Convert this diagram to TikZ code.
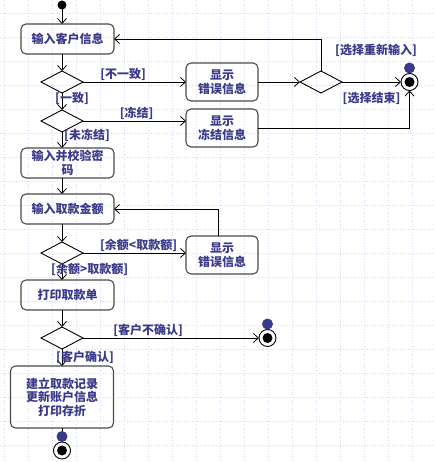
\documentclass[tikz,border=0pt]{standalone}
\usepackage{fontspec}
\newfontfamily\cjk{Noto Sans CJK SC}
\usetikzlibrary{shapes.geometric, arrows.meta, positioning}
\definecolor{tnavy}{HTML}{3A3A8A}
\definecolor{bgray}{HTML}{4A4A4A}
\definecolor{gridc}{HTML}{D8DBF4}
\tikzstyle{initial} = [circle, fill = black, minimum size = 9pt, inner sep = 0pt, outer sep = 0pt]
\tikzstyle{final} = [circle, draw, line width = 0.9pt, minimum size = 17pt, inner sep = 0pt, outer sep = 0pt, path picture = {\fill (path picture bounding box.center) circle (5pt);}]
\tikzstyle{marker} = [circle, fill = tnavy, minimum size = 11pt, inner sep = 0pt, outer sep = 0pt]
\tikzstyle{action} = [rectangle, rounded corners = 5pt, draw = bgray, line width = 1.1pt, minimum width = 93pt, minimum height = 30pt, inner sep = 1pt, outer sep = 0pt, align = center, text = tnavy, font = \cjk\bfseries\fontsize{12}{13.5}\selectfont]
\tikzstyle{notice} = [action, minimum width = 72pt, minimum height = 38pt]
\tikzstyle{branch} = [diamond, draw, line width = 0.9pt, minimum width = 42pt, minimum height = 22pt, inner sep = 0pt, outer sep = 0pt]
\tikzstyle{guard} = [inner sep = 1pt, text = tnavy, font = \cjk\bfseries\fontsize{12}{13.5}\selectfont]
\tikzstyle{flow} = [line width = 0.8pt, ->, >={Straight Barb[length = 5pt, width = 9pt]}]
\tikzstyle{gridline} = [gridc, line width = 0.7pt, dash pattern = on 0.8pt off 1.9pt]

\begin{document}
\begin{tikzpicture}[node distance = 17pt]
  \useasboundingbox (0,0) rectangle (435pt,-462pt);
  % background grid
  \foreach \gx in {0,...,17} \draw [gridline] (4.3pt+\gx*24pt,0) -- ++(0,-462pt);
  \foreach \gy in {0,...,18} \draw [gridline] (0,-13.3pt-\gy*24pt) -- ++(435pt,0);
  % main column
  \node (start) [initial] at (62pt,-5pt) {};
  \node (enter) [action, below = 14.5pt of start, xshift = 5.5pt] {输入客户信息};
  \node (check) [branch, below = of enter, xshift = -5.5pt] {};
  \node (frozen) [branch, below = of check] {};
  \node (pin) [action, below = 16pt of frozen, xshift = 5.5pt] {输入并校验密\\码};
  \node (amount) [action, below = 16pt of pin] {输入取款金额};
  \node (balance) [branch, below = 18pt of amount, xshift = -5.5pt] {};
  \node (slip) [action, below = 16pt of balance, xshift = 5.5pt] {打印取款单};
  \node (confirm) [branch, below = of slip, xshift = -5.5pt] {};
  \node (record) [action, below = of confirm, minimum width = 103pt, minimum height = 62pt] {建立取款记录\\更新账户信息\\打印存折};
  \node (end3) [final, below = 14pt of record] {};
  % side column
  \node (err1) [notice, right = 103pt of check] {显示\\错误信息};
  \node (err2) [notice, right = 103pt of frozen, yshift = -7pt] {显示\\冻结信息};
  \node (err3) [notice, right = 103pt of balance, yshift = -2pt] {显示\\错误信息};
  \node (retry) [branch, right = 42pt of err1] {};
  \node (end1) [final, right = 59pt of retry] {};
  \node (end2) [final, right = 176pt of confirm] {};
  % connectors
  \draw [flow] (start) -- (enter.north -| start);
  \draw [flow] (enter.south -| check) -- (check);
  \draw [flow] (check) -- node [guard, above, pos = 0.39] {[不一致]} (err1);
  \draw [flow] (check) -- (frozen);
  \draw [flow] (frozen) -- node [guard, above, pos = 0.52] {[冻结]} (err2.west |- frozen);
  \draw [flow] (frozen) -- (pin.north -| frozen);
  \draw [flow] (err1) -- (retry);
  \draw [flow] (retry) |- (enter);
  \draw [flow] (retry) -- node [guard, below = 9pt] {[选择结束]} (end1);
  \draw [flow] (err2) -| (end1);
  \draw [flow] (pin.south -| frozen) -- (amount.north -| frozen);
  \draw [flow] (amount.south -| balance) -- (balance);
  \draw [flow] (balance) -- node [guard, above, pos = 0.54] {[余额<取款额]} (err3.west |- balance);
  \draw [flow] ([xshift = -4pt]err3.north) |- (amount);
  \draw [flow] (balance) -- (slip.north -| balance);
  \draw [flow] (slip.south -| confirm) -- (confirm);
  \draw [flow] (confirm) -- node [guard, above, pos = 0.37] {[客户不确认]} (end2);
  \draw [flow] (confirm) -- (record);
  \draw [flow] (record) -- (end3);
  % guards under the branches
  \node (ok) [guard, below right = -2pt and -8pt of check.south] {[一致]};
  \node (notfrozen) [guard, below right = -4pt and 1pt of frozen.south] {[未冻结]};
  \node (enough) [guard, below right = -2pt and -12pt of balance.south] {[余额>取款额]};
  \node (yes) [guard, below right = 1pt and -7pt of confirm.south] {[客户确认]};
  \node (again) [guard, above right = 13pt and 13pt of retry.north] {[选择重新输入]};
  % markers on the final states
  \node (dot1) [marker, above = 0pt of end1] {};
  \node (dot2) [marker, above = 0pt of end2] {};
  \node (dot3) [marker, above = 0pt of end3] {};
\end{tikzpicture}
\end{document}
